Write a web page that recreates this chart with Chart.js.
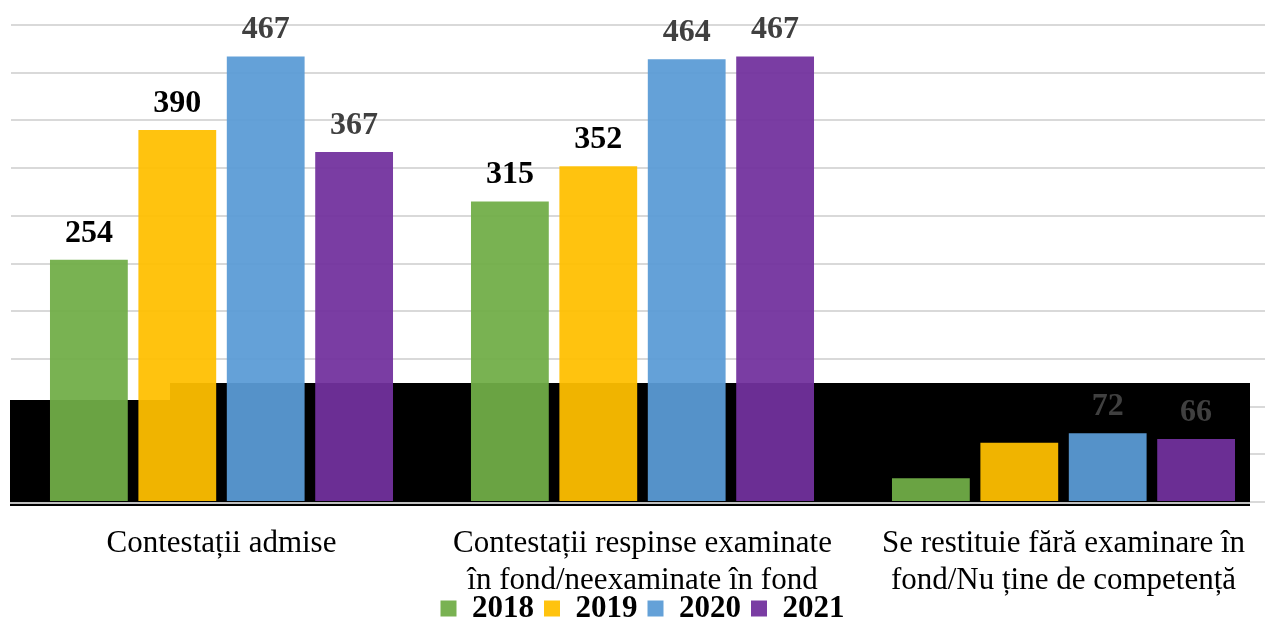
<!DOCTYPE html>
<html>
<head>
<meta charset="utf-8">
<script src="https://cdn.jsdelivr.net/npm/chart.js@4/dist/chart.umd.min.js"></script>
<style>
  html, body { margin: 0; padding: 0; overflow: hidden; background: #fff; }
  #wrap { width: 1276px; height: 620px; position: relative; }
</style>
</head>
<body>
<div id="wrap"><canvas id="myChart"></canvas></div>
<script>
var categories = [
  "Contestații admise",
  ["Contestații respinse examinate", "în fond/neexaminate în fond"],
  ["Se restituie fără examinare în", "fond/Nu ține de competență"]
];
var years = ["2018", "2019", "2020", "2021"];
var values2018 = [254, 315, 25];
var values2019 = [390, 352, 62];
var values2020 = [467, 464, 72];
var values2021 = [367, 467, 66];
var yTicks = [0, 500, 50]; // min, max, step

var colors = ["rgba(113,173,71,0.94)", "rgba(255,191,0,0.94)", "rgba(90,155,214,0.94)", "rgba(114,49,157,0.94)"];
var labelColors = ["#000000", "#000000", "#404040", "#404040"];
var serif = "'Liberation Serif', 'Times New Roman', serif";

// dark band behind the lower part of the bars, plus the baseline drawn over it
var bandPlugin = {
  id: "band",
  afterLayout: function (chart) {
    // let the two-line category labels run down under the legend
    chart.scales.x.bottom = chart.height;
  },
  beforeDatasetsDraw: function (chart) {
    var c = chart.ctx;
    var y0 = chart.scales.y.getPixelForValue(0);
    c.save();
    c.fillStyle = "#000";
    c.fillRect(10, 400, 160, y0 + 4 - 400);
    c.fillRect(170, 383, 1080, y0 + 4 - 383);
    c.strokeStyle = "#bfbfbf";
    c.lineWidth = 2;
    c.beginPath();
    c.moveTo(10, y0 + 1);
    c.lineTo(1250, y0 + 1);
    c.stroke();
    c.restore();
  }
};

// value labels above each bar
var valuePlugin = {
  id: "values",
  afterDatasetsDraw: function (chart) {
    var c = chart.ctx;
    c.save();
    c.font = "bold 32px " + serif;
    c.textAlign = "center";
    c.textBaseline = "alphabetic";
    chart.data.datasets.forEach(function (ds, i) {
      chart.getDatasetMeta(i).data.forEach(function (bar, j) {
        c.fillStyle = labelColors[i];
        c.fillText(ds.data[j], bar.x, bar.y - 18);
      });
    });
    c.restore();
  }
};

var ctx = document.getElementById("myChart").getContext("2d");

var myChart = new Chart(ctx, {
  type: "bar",
  data: {
    labels: categories,
    datasets: [
      { label: years[0], data: values2018, backgroundColor: colors[0] },
      { label: years[1], data: values2019, backgroundColor: colors[1] },
      { label: years[2], data: values2020, backgroundColor: colors[2] },
      { label: years[3], data: values2021, backgroundColor: colors[3] }
    ]
  },
  options: {
    responsive: true,
    maintainAspectRatio: false,
    animation: false,
    categoryPercentage: 0.84,
    barPercentage: 0.88,
    layout: { padding: { left: 11, right: 2, top: 25, bottom: -14 } },
    plugins: {
      tooltip: { enabled: false },
      legend: {
        position: "bottom",
        labels: {
          boxWidth: 16,
          boxHeight: 16,
          padding: 10,
          color: "#000",
          font: { family: serif, size: 31, weight: "bold" }
        }
      }
    },
    scales: {
      x: {
        grid: { display: false, drawTicks: false },
        border: { display: false },
        ticks: {
          color: "#000",
          padding: 23,
          maxRotation: 0,
          autoSkip: false,
          font: { family: serif, size: 31, lineHeight: 1.2 }
        },
        afterFit: function (scale) { scale.height = 81; }
      },
      y: {
        min: yTicks[0],
        max: yTicks[1],
        ticks: { display: false, stepSize: yTicks[2] },
        grid: { color: "#d9d9d9", lineWidth: 2, drawTicks: false },
        border: { display: false }
      }
    }
  },
  plugins: [bandPlugin, valuePlugin]
});
</script>
</body>
</html>
